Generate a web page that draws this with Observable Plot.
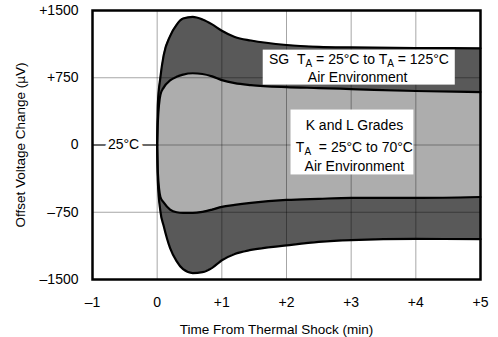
<!DOCTYPE html>
<html><head><meta charset="utf-8">
<script src="https://cdn.jsdelivr.net/npm/d3@7"></script>
<script src="https://cdn.jsdelivr.net/npm/@observablehq/plot@0.6"></script>
<style>
body{margin:0;background:#fff}
svg{display:block}
</style>
</head><body><div id="chart"></div>
<script>
// Time from thermal shock (min) sample points
const time        = [0, 0.01, 0.05, 0.1, 0.2, 0.3, 0.4, 0.55, 0.7, 0.85, 1.0, 1.2, 1.45, 2, 2.5, 3, 4, 5];
// SG band (dark) edges, µV
const sgUpper     = [0, 450, 757, 1000, 1215, 1340, 1410, 1428, 1400, 1345, 1275, 1205, 1165, 1115, 1095, 1088, 1082, 1078];
const sgLower     = [0, -400, -740, -900, -1150, -1295, -1385, -1428, -1418, -1370, -1285, -1215, -1170, -1120, -1080, -1060, -1048, -1050];
// K and L grades band (light) edges, µV
const klUpper     = [0, 250, 560, 640, 720, 760, 785, 800, 792, 765, 724, 690, 668, 645, 635, 624, 602, 590];
const klLower     = [0, -300, -580, -640, -720, -750, -757, -757, -745, -720, -690, -668, -646, -613, -600, -590, -590, -580];

const xTicks = [-1, 0, 1, 2, 3, 4, 5];
const yTicks = [-1500, -750, 0, 750, 1500];
const xGrid = [0, 1, 2, 3, 4];
const yGrid = [-750, 0, 750];

const xTitle = "Time From Thermal Shock (min)";
const yTitle = "Offset Voltage Change (µV)";

// pre-shock reference
const refLine = [{x1: -1, x2: 0, y: 0, lx: -0.52, label: "25°C"}];

// annotation boxes (data units)
const boxes = [
  {x1: 1.64, x2: 4.61, y1: 668, y2: 1058},
  {x1: 2.07, x2: 3.97, y1: -334, y2: 390}
];
const labels = [
  {x: 3.12, y: 905, text: "SG\u00a0\u00a0T_A\u00a0= 25°C to T_A\u00a0= 125°C"},
  {x: 3.10, y: 703, text: "Air Environment"},
  {x: 3.05, y: 167, text: "K and L Grades"},
  {x: 3.05, y: -78, text: "T_A\u00a0\u00a0= 25°C to 70°C"},
  {x: 3.05, y: -290, text: "Air Environment"}
];

const rows = time.map((t, i) => ({t, ou: sgUpper[i], ol: sgLower[i], iu: klUpper[i], il: klLower[i]}));

const fmtY = d => d > 0 ? "+" + d : d < 0 ? "\u2013" + Math.abs(d) : "0";
const fmtX = d => d > 0 ? "+" + d : d < 0 ? "\u2013" + Math.abs(d) : "0";

const curve = "monotone-x";
const dark = "#595959", light = "#adadad";
const font = "'Liberation Sans', Arial, Helvetica, sans-serif";

const chart = Plot.plot({
  width: 498,
  height: 337,
  marginLeft: 92,
  marginRight: 18,
  marginTop: 10,
  marginBottom: 58,
  style: {fontFamily: font, fontSize: "14px", background: "white", color: "black"},
  x: {domain: [-1, 5]},
  y: {domain: [-1500, 1500]},
  marks: [
    Plot.areaY(rows, {x: "t", y1: "ol", y2: "ou", fill: dark, curve}),
    Plot.areaY(rows, {x: "t", y1: "il", y2: "iu", fill: light, curve}),
    Plot.gridX(xGrid, {stroke: "#000", strokeOpacity: 0.35, strokeWidth: 1}),
    Plot.gridY(yGrid, {stroke: "#000", strokeOpacity: 0.35, strokeWidth: 1}),
    Plot.ruleY(refLine, {x1: "x1", x2: "x2", y: "y", stroke: "black", strokeWidth: 1}),
    Plot.line(rows, {x: "t", y: "ou", stroke: "black", strokeWidth: 2.2, curve}),
    Plot.line(rows, {x: "t", y: "ol", stroke: "black", strokeWidth: 2.2, curve}),
    Plot.line(rows, {x: "t", y: "iu", stroke: "black", strokeWidth: 2.2, curve}),
    Plot.line(rows, {x: "t", y: "il", stroke: "black", strokeWidth: 2.2, curve}),
    Plot.rect(boxes, {x1: "x1", x2: "x2", y1: "y1", y2: "y2", fill: "white"}),
    Plot.text(labels, {x: "x", y: "y", text: "text", lineAnchor: "bottom", fontSize: 14, fill: "black"}),
    Plot.text(refLine, {x: "lx", y: "y", text: "label", fill: "black", stroke: "white", strokeWidth: 8, fontSize: 14}),
    Plot.axisX({ticks: xTicks, tickFormat: fmtX, tickSize: 0, tickPadding: 18, label: null, fontSize: 14}),
    Plot.axisY({ticks: yTicks, tickFormat: fmtY, tickSize: 0, tickPadding: 14, label: null, fontSize: 14}),
    Plot.text([xTitle], {frameAnchor: "bottom", textAnchor: "middle", dx: -10, dy: 54, fontSize: 13.5, text: d => d}),
    Plot.text([yTitle], {frameAnchor: "left", textAnchor: "middle", dx: -72, rotate: -90, fontSize: 13.5, text: d => d}),
    Plot.frame({stroke: "black", strokeWidth: 2.5})
  ]
});

// render "_A" as subscript A
d3.select(chart).selectAll("text").each(function() {
  const el = d3.select(this);
  if (this.querySelector("tspan")) return;
  const s = this.textContent;
  if (!s.includes("_A")) return;
  const parts = s.split("_A");
  el.text(null);
  parts.forEach((p, i) => {
    el.append("tspan").attr("dy", i > 0 ? -3 : null).text(p);
    if (i < parts.length - 1) el.append("tspan").attr("dy", 3).attr("font-size", 10).text("A");
  });
});

document.getElementById("chart").appendChild(chart);
</script>
</body></html>
